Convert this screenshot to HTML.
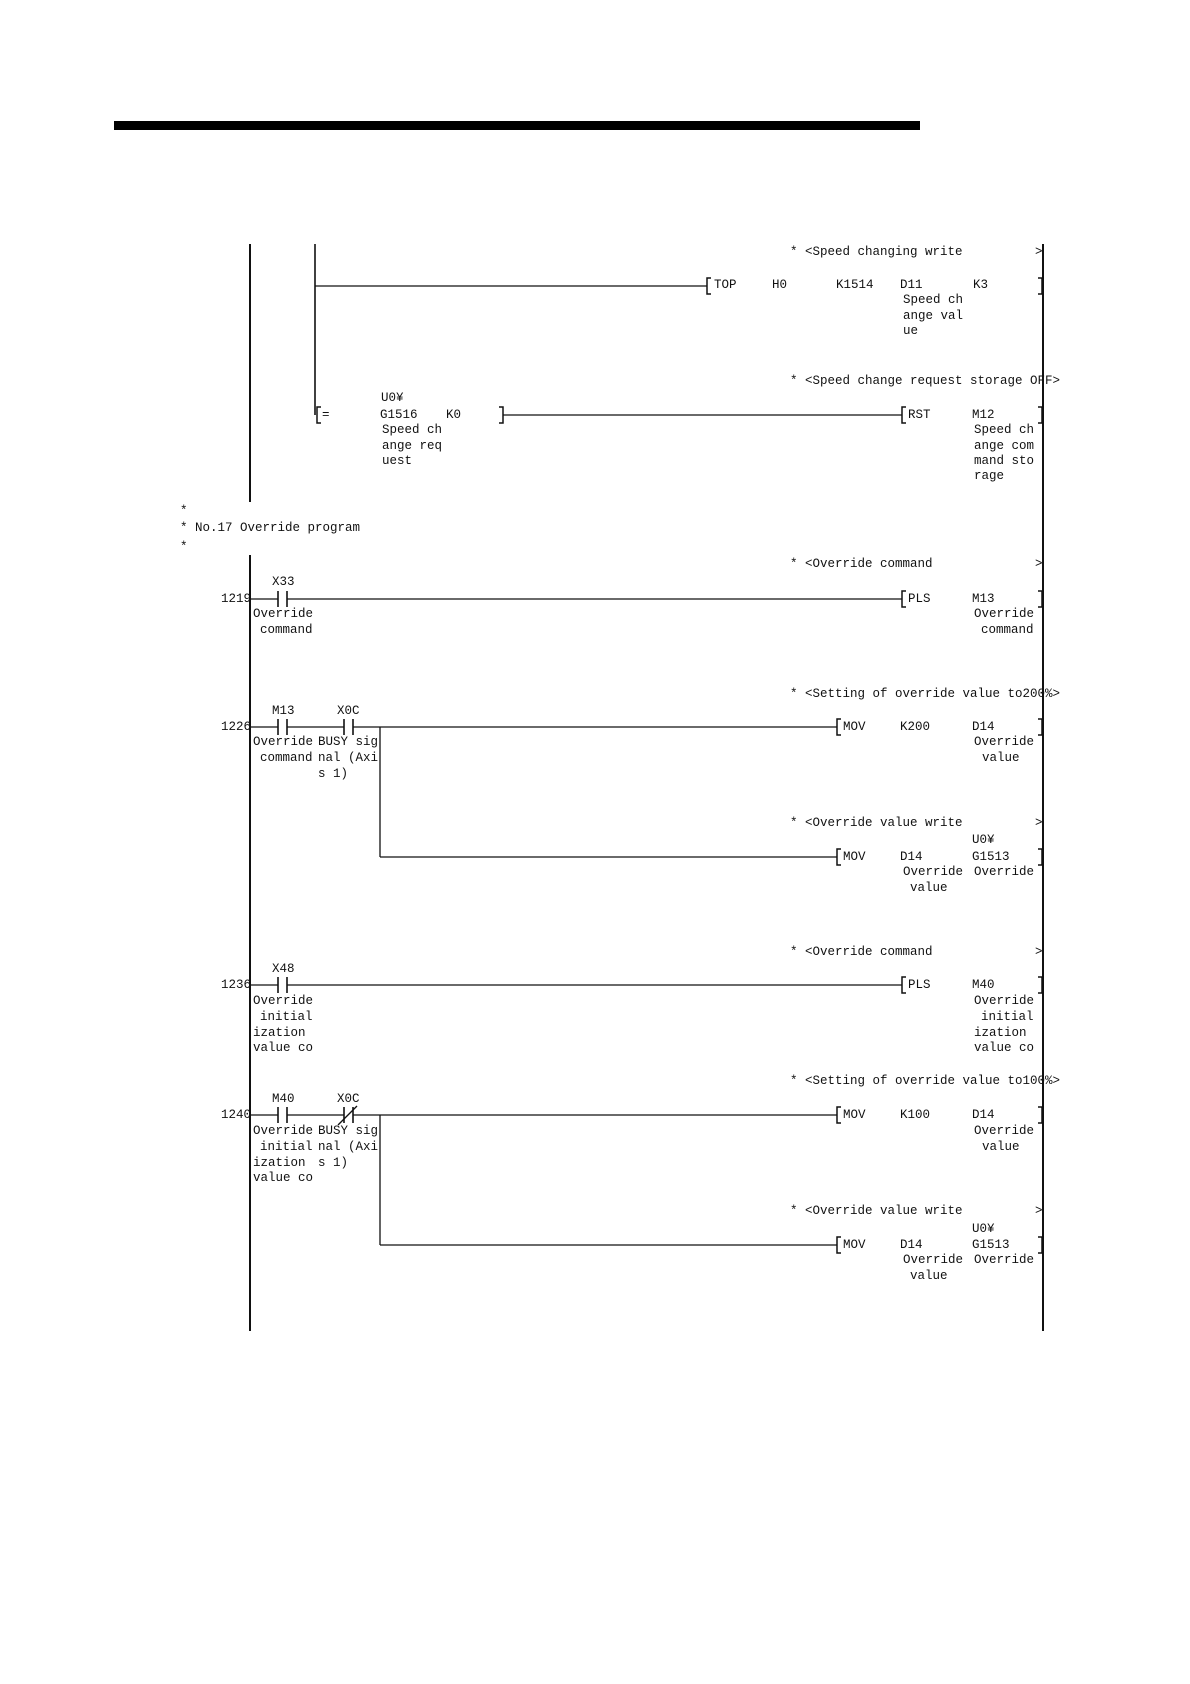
<!DOCTYPE html>
<html><head><meta charset="utf-8"><style>
html,body{margin:0;padding:0;background:#fff;}
svg{display:block;}
text{font-family:"Liberation Mono","Noto Sans CJK JP",monospace;font-size:12.5px;fill:#111;dominant-baseline:central;}
</style></head><body>
<svg width="1190" height="1684" viewBox="0 0 1190 1684" xmlns="http://www.w3.org/2000/svg">
<rect x="114" y="121" width="806" height="9" fill="#000"/>
<g stroke="#111" fill="none">
<!-- rails -->
<line x1="250" y1="244" x2="250" y2="502" stroke-width="2"/>
<line x1="250" y1="555" x2="250" y2="1331" stroke-width="2"/>
<line x1="1043" y1="244" x2="1043" y2="1331" stroke-width="2"/>
<line x1="315" y1="244" x2="315" y2="415" stroke-width="1.6"/>
<!-- rungs -->
<g stroke-width="1.3">
<line x1="315" y1="286" x2="707" y2="286"/>
<line x1="503" y1="415" x2="902" y2="415"/>
<!-- 1219 -->
<line x1="250" y1="599" x2="278" y2="599"/><line x1="287" y1="599" x2="902" y2="599"/>
<!-- 1226 -->
<line x1="250" y1="727" x2="278" y2="727"/><line x1="287" y1="727" x2="344" y2="727"/><line x1="353" y1="727" x2="837" y2="727"/>
<line x1="380" y1="727" x2="380" y2="857"/><line x1="380" y1="857" x2="837" y2="857"/>
<!-- 1236 -->
<line x1="250" y1="985" x2="278" y2="985"/><line x1="287" y1="985" x2="902" y2="985"/>
<!-- 1240 -->
<line x1="250" y1="1115" x2="278" y2="1115"/><line x1="287" y1="1115" x2="344" y2="1115"/><line x1="353" y1="1115" x2="837" y2="1115"/>
<line x1="380" y1="1115" x2="380" y2="1245"/><line x1="380" y1="1245" x2="837" y2="1245"/>
<line x1="338" y1="1125" x2="357" y2="1106"/>
</g>
<!-- contacts -->
<g stroke-width="1.6">
<line x1="278" y1="591" x2="278" y2="607"/><line x1="287" y1="591" x2="287" y2="607"/>
<line x1="278" y1="719" x2="278" y2="735"/><line x1="287" y1="719" x2="287" y2="735"/>
<line x1="344" y1="719" x2="344" y2="735"/><line x1="353" y1="719" x2="353" y2="735"/>
<line x1="278" y1="977" x2="278" y2="993"/><line x1="287" y1="977" x2="287" y2="993"/>
<line x1="278" y1="1107" x2="278" y2="1123"/><line x1="287" y1="1107" x2="287" y2="1123"/>
<line x1="344" y1="1107" x2="344" y2="1123"/><line x1="353" y1="1107" x2="353" y2="1123"/>
</g>
<!-- brackets -->
<g stroke-width="1.5">
<path d="M711 278 H707 V294 H711"/><path d="M1038 278 H1042 V294 H1038"/>
<path d="M321 407 H317 V423 H321"/><path d="M499 407 H503 V423 H499"/>
<path d="M906 407 H902 V423 H906"/><path d="M1038 407 H1042 V423 H1038"/>
<path d="M906 591 H902 V607 H906"/><path d="M1038 591 H1042 V607 H1038"/>
<path d="M841 719 H837 V735 H841"/><path d="M1038 719 H1042 V735 H1038"/>
<path d="M841 849 H837 V865 H841"/><path d="M1038 849 H1042 V865 H1038"/>
<path d="M906 977 H902 V993 H906"/><path d="M1038 977 H1042 V993 H1038"/>
<path d="M841 1107 H837 V1123 H841"/><path d="M1038 1107 H1042 V1123 H1038"/>
<path d="M841 1237 H837 V1253 H841"/><path d="M1038 1237 H1042 V1253 H1038"/>
</g>
</g>
<!-- top block texts -->
<text x="790" y="252">* &lt;Speed changing write</text><text x="1035" y="252">&gt;</text>
<text x="714" y="285">TOP</text><text x="772" y="285">H0</text><text x="836" y="285">K1514</text><text x="900" y="285">D11</text><text x="973" y="285">K3</text>
<text x="903" y="300">Speed ch</text><text x="903" y="316">ange val</text><text x="903" y="331">ue</text>
<text x="790" y="381">* &lt;Speed change request storage OFF&gt;</text>
<text x="322" y="415">=</text>
<text x="381" y="398">U0¥</text><text x="380" y="415">G1516</text><text x="446" y="415">K0</text>
<text x="382" y="430">Speed ch</text><text x="382" y="446">ange req</text><text x="382" y="461">uest</text>
<text x="908" y="415">RST</text><text x="972" y="415">M12</text>
<text x="974" y="430">Speed ch</text><text x="974" y="446">ange com</text><text x="974" y="461">mand sto</text><text x="974" y="476">rage</text>
<text x="180" y="511">*</text>
<text x="180" y="528">* No.17 Override program</text>
<text x="180" y="547">*</text>
<!-- 1219 -->
<text x="790" y="564">* &lt;Override command</text><text x="1035" y="564">&gt;</text>
<text x="221" y="599">1219</text>
<text x="272" y="582">X33</text>
<text x="253" y="614">Override</text><text x="260" y="630">command</text>
<text x="908" y="599">PLS</text><text x="972" y="599">M13</text>
<text x="974" y="614">Override</text><text x="981" y="630">command</text>
<!-- 1226 -->
<text x="790" y="694">* &lt;Setting of override value to200%&gt;</text>
<text x="221" y="727">1226</text>
<text x="272" y="711">M13</text><text x="337" y="711">X0C</text>
<text x="253" y="742">Override</text><text x="260" y="758">command</text>
<text x="318" y="742">BUSY sig</text><text x="318" y="758">nal (Axi</text><text x="318" y="774">s 1)</text>
<text x="843" y="727">MOV</text><text x="900" y="727">K200</text><text x="972" y="727">D14</text>
<text x="974" y="742">Override</text><text x="982" y="758">value</text>
<text x="790" y="823">* &lt;Override value write</text><text x="1035" y="823">&gt;</text>
<text x="972" y="840">U0¥</text>
<text x="843" y="857">MOV</text><text x="900" y="857">D14</text><text x="972" y="857">G1513</text>
<text x="903" y="872">Override</text><text x="910" y="888">value</text><text x="974" y="872">Override</text>
<!-- 1236 -->
<text x="790" y="952">* &lt;Override command</text><text x="1035" y="952">&gt;</text>
<text x="221" y="985">1236</text>
<text x="272" y="969">X48</text>
<text x="253" y="1001">Override</text><text x="260" y="1017">initial</text><text x="253" y="1033">ization</text><text x="253" y="1048">value co</text>
<text x="908" y="985">PLS</text><text x="972" y="985">M40</text>
<text x="974" y="1001">Override</text><text x="981" y="1017">initial</text><text x="974" y="1033">ization</text><text x="974" y="1048">value co</text>
<!-- 1240 -->
<text x="790" y="1081">* &lt;Setting of override value to100%&gt;</text>
<text x="221" y="1115">1240</text>
<text x="272" y="1099">M40</text><text x="337" y="1099">X0C</text>
<text x="253" y="1131">Override</text><text x="260" y="1147">initial</text><text x="253" y="1163">ization</text><text x="253" y="1178">value co</text>
<text x="318" y="1131">BUSY sig</text><text x="318" y="1147">nal (Axi</text><text x="318" y="1163">s 1)</text>
<text x="843" y="1115">MOV</text><text x="900" y="1115">K100</text><text x="972" y="1115">D14</text>
<text x="974" y="1131">Override</text><text x="982" y="1147">value</text>
<text x="790" y="1211">* &lt;Override value write</text><text x="1035" y="1211">&gt;</text>
<text x="972" y="1229">U0¥</text>
<text x="843" y="1245">MOV</text><text x="900" y="1245">D14</text><text x="972" y="1245">G1513</text>
<text x="903" y="1260">Override</text><text x="910" y="1276">value</text><text x="974" y="1260">Override</text>
</svg>
</body></html>
